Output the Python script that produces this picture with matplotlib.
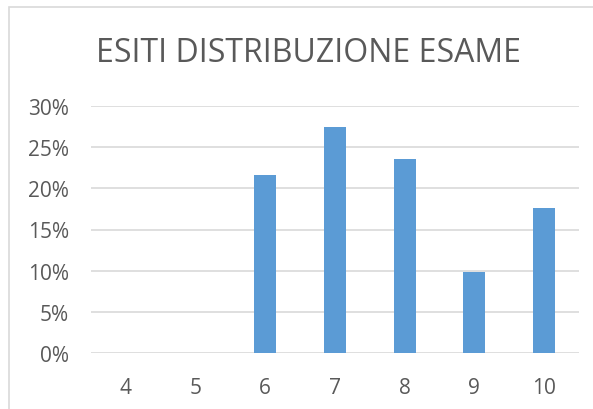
import matplotlib
matplotlib.use("Agg")
import matplotlib.pyplot as plt
from matplotlib.patches import Rectangle
from matplotlib.ticker import PercentFormatter

categories = ["4", "5", "6", "7", "8", "9", "10"]
values = [0.0, 0.0, 11/51, 14/51, 12/51, 5/51, 9/51]
yticks = [0.0, 0.05, 0.10, 0.15, 0.20, 0.25, 0.30]

W, H = 593, 410
fig = plt.figure(figsize=(W/100, H/100), dpi=100)
plt.rcParams['font.family'] = ['Open Sans', 'DejaVu Sans']

fig.patches.append(Rectangle((9/W, -0.1), 1.2, (H-8)/H + 0.1, transform=fig.transFigure,
                             fill=False, edgecolor="#d9d9d9", linewidth=1.2))

ax = fig.add_axes([91/W, (H-354)/H, (579-91)/W, (354-107)/H])
x = range(len(categories))
ax.bar(x, values, width=0.316, color="#5b9bd5", zorder=3)
ax.set_xlim(-0.5, len(categories)-0.5)
ax.set_ylim(0, 0.30)
ax.set_yticks(yticks)
ax.yaxis.set_major_formatter(PercentFormatter(1.0, decimals=0))
ax.set_xticks(list(x))
ax.set_xticklabels(categories)
ax.grid(axis="y", color="#d9d9d9", linewidth=1.2, zorder=0)
for s in ax.spines.values():
    s.set_visible(False)
ax.tick_params(axis="both", length=0, labelsize=15, labelcolor="#595959")
ax.tick_params(axis="x", pad=17)
ax.tick_params(axis="y", pad=16)

fig.text(309/W, 1 - 53/H, "ESITI DISTRIBUZIONE ESAME", ha="center", va="center",
         fontsize=23, color="#595959")

fig.savefig("out.png", dpi=100)
